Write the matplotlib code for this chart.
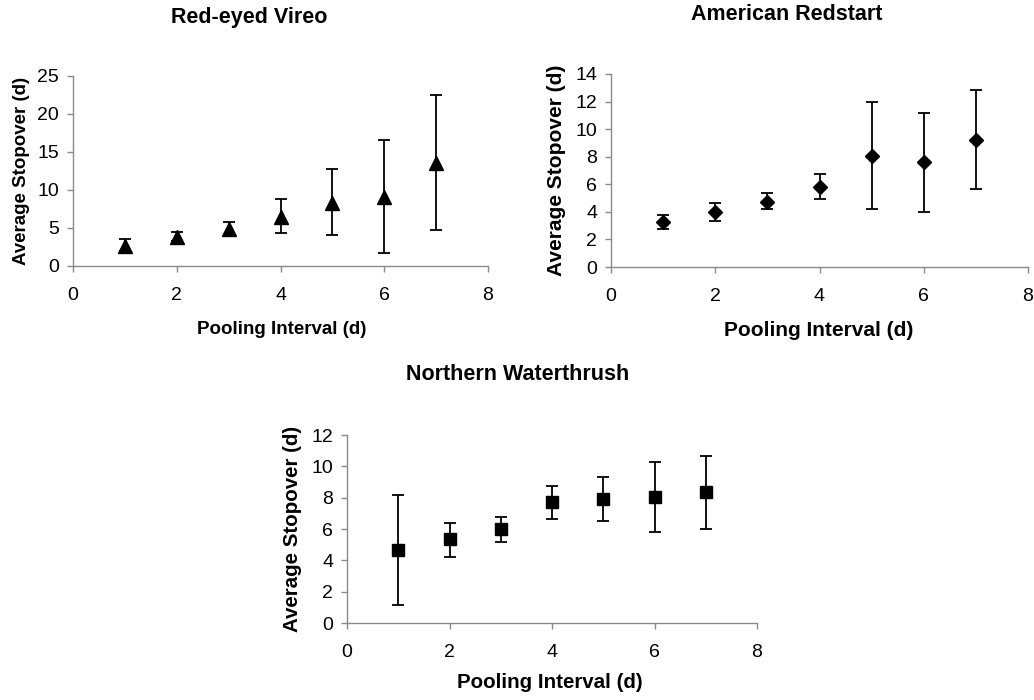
import matplotlib
matplotlib.use("Agg")
from matplotlib import pyplot as plt
import numpy as np

plt.rcParams['font.family'] = ['Liberation Sans', 'DejaVu Sans']

interval = [1, 2, 3, 4, 5, 6, 7]

# Red-eyed Vireo: mean, lower and upper end of error bar
reve_mean = [2.65, 3.8, 4.85, 6.5, 8.25, 9.05, 13.5]
reve_low = [2.0, 3.3, 4.05, 4.3, 4.1, 1.7, 4.8]
reve_high = [3.55, 4.45, 5.8, 8.85, 12.8, 16.6, 22.45]

# American Redstart
amre_mean = [3.28, 3.97, 4.69, 5.82, 8.07, 7.59, 9.21]
amre_low = [2.76, 3.36, 4.18, 4.91, 4.18, 4.01, 5.63]
amre_high = [3.79, 4.64, 5.34, 6.77, 11.97, 11.15, 12.81]

# Northern Waterthrush
nowa_mean = [4.66, 5.36, 5.98, 7.72, 7.89, 8.06, 8.33]
nowa_low = [1.17, 4.22, 5.17, 6.66, 6.49, 5.79, 6.02]
nowa_high = [8.14, 6.40, 6.76, 8.76, 9.31, 10.26, 10.67]

W, H = 1034.0, 700.0
fig = plt.figure(figsize=(W / 100, H / 100), dpi=100)


def box(left, right, top, bottom):
    return [left / W, 1 - bottom / H, (right - left) / W, (bottom - top) / H]


def panel(rect, mean, low, high, marker, msize, ymax, ystep, labsize, title, title_xy, xlab_xy, ylab_x):
    ax = fig.add_axes(box(*rect))
    mean = np.array(mean)
    yerr = [mean - np.array(low), np.array(high) - mean]
    ax.errorbar(interval, mean, yerr=yerr, fmt=marker, color='black', ms=msize,
                ecolor='black', elinewidth=1.3, capsize=4.5, capthick=1.3)
    ax.set_xlim(0, 8)
    ax.set_ylim(0, ymax)
    ax.set_xticks(range(0, 9, 2))
    ax.set_yticks(np.arange(0, ymax + 0.1, ystep))
    for s in ['top', 'right']:
        ax.spines[s].set_visible(False)
    for s in ['left', 'bottom']:
        ax.spines[s].set_color('#8a8a8a')
        ax.spines[s].set_linewidth(1.0)
    ax.tick_params(direction='out', length=4, width=1, color='#8a8a8a', labelsize=14, pad=6)
    ax.tick_params(axis='x', pad=11)
    fig.text(title_xy[0] / W, 1 - title_xy[1] / H, title, ha='center', va='center',
             fontsize=15.5, fontweight='bold')
    fig.text(xlab_xy[0] / W, 1 - xlab_xy[1] / H, 'Pooling Interval (d)', ha='center', va='center',
             fontsize=labsize, fontweight='bold')
    cy = (rect[2] + rect[3]) / 2
    fig.text(ylab_x / W, 1 - cy / H, 'Average Stopover (d)', ha='center', va='center',
             rotation=90, fontsize=labsize, fontweight='bold')
    return ax


panel((73, 488, 76, 266), reve_mean, reve_low, reve_high, '^', 9.5, 25, 5, 13.5,
      'Red-eyed Vireo', (249, 18), (282, 330), 22)
panel((611, 1028, 74, 267), amre_mean, amre_low, amre_high, 'D', 7, 14, 2, 15,
      'American Redstart', (787, 15), (819, 330), 556)
panel((347, 757, 435, 623), nowa_mean, nowa_low, nowa_high, 's', 8, 12, 2, 14.8,
      'Northern Waterthrush', (518, 375), (550, 682), 293)

fig.savefig('out.png', dpi=100)
